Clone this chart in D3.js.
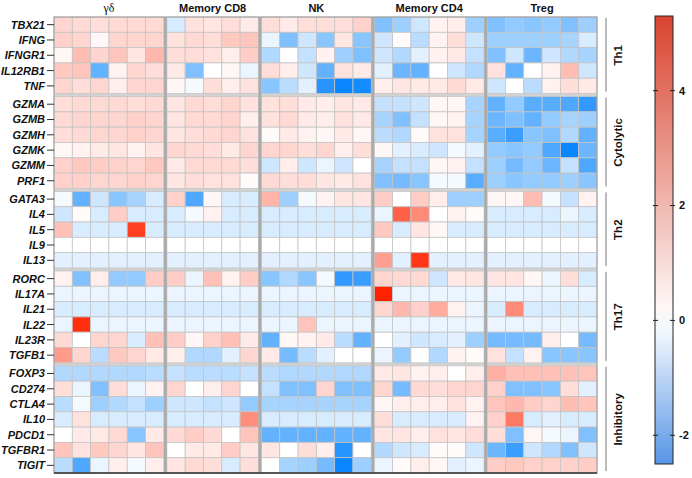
<!DOCTYPE html>
<html>
<head>
<meta charset="utf-8">
<script src="https://cdn.jsdelivr.net/npm/d3@7"></script>
<style>
  body { margin: 0; background: #fff; }
  svg text { font-family: "Liberation Sans", Arial, sans-serif; }
</style>
</head>
<body>
<svg id="chart" width="692" height="478"></svg>
<script>
const genes = ["TBX21", "IFNG", "IFNGR1", "IL12RB1", "TNF",
  "GZMA", "GZMB", "GZMH", "GZMK", "GZMM", "PRF1",
  "GATA3", "IL4", "IL5", "IL9", "IL13",
  "RORC", "IL17A", "IL21", "IL22", "IL23R", "TGFB1",
  "FOXP3", "CD274", "CTLA4", "IL10", "PDCD1", "TGFBR1", "TIGIT"];
const categories    = ["Th1", "Cytolytic", "Th2", "Th17", "Inhibitory"];
const categorySizes = [5, 6, 5, 6, 7];
const cellTypes     = ["γδ", "Memory CD8", "NK", "Memory CD4", "Treg"];

// one row per gene (same order as genes), one value per donor column
const valuesGD = [
  [1.0, 0.9, 0.8, 0.9, 0.9, 0.9], [1.1, 1.0, 0.2, 1.0, 1.0, 1.0], [0.2, 1.6, 1.0, 1.4, 0.6, 1.7],
  [1.3, 1.4, -1.6, 0.3, 1.0, 0.8], [1.0, 0.8, 1.0, 0.4, 1.0, 1.0],
  [0.8, 0.9, 0.9, 0.9, 0.8, 0.9], [0.9, 1.0, 1.0, 1.0, 1.1, 1.0], [0.8, 0.9, 1.0, 1.0, 1.1, 1.0],
  [0.2, 0.3, 0.5, 0.6, 0.3, 0.6], [1.1, 1.3, 1.2, 1.1, 1.0, 1.3], [1.1, 1.1, 1.0, 1.0, 1.1, 1.0],
  [-0.1, -1.6, -0.5, -1.2, -0.9, -0.4], [-0.5, 0.1, -0.4, 1.2, -0.4, -0.4], [1.5, -0.4, -0.4, -0.4, 4.6, -0.4],
  [0.0, 0.0, 0.0, 0.0, 0.0, 0.0], [-0.3, -0.3, -0.3, -0.3, -0.3, -0.3],
  [0.3, -1.3, 0.4, -1.1, -1.1, 1.2], [-0.2, -0.2, -0.2, -0.2, -0.2, -0.2], [-0.4, -0.4, -0.4, -0.4, -0.4, -0.4],
  [-0.2, 5.0, -0.2, -0.2, -0.2, -0.2], [0.9, 0.0, 1.0, 1.0, -0.4, 1.5], [2.4, 1.0, -0.7, 1.3, 1.0, 0.5],
  [-0.8, -0.8, -0.8, -0.8, -0.8, -0.7], [0.8, -0.2, -1.3, 0.8, -0.2, 0.3], [-0.7, -0.1, -1.0, -0.8, -0.6, -1.0],
  [-0.4, 0.7, -0.4, -0.4, -0.4, -0.4], [0.0, 0.5, 0.5, 0.9, -1.2, 0.5], [1.4, 0.7, 1.3, 1.0, 0.6, 1.4],
  [-0.7, -1.8, -0.2, 0.4, -0.1, 0.4]
];
const valuesCD8 = [
  [-0.4, 0.7, 0.6, 0.8, 0.5], [0.7, 0.9, 0.8, 1.3, 1.4], [0.8, 0.8, 0.7, 0.4, 1.2],
  [0.5, -1.3, 0.0, 0.2, -0.2], [0.2, -0.1, 0.8, 0.4, 0.7],
  [0.6, 0.9, 0.8, 1.0, 0.7], [0.6, 0.9, 0.9, 1.0, 0.4], [0.6, 0.8, 0.9, 1.0, 0.7],
  [1.0, 0.9, 0.8, 0.5, 1.0], [0.5, 0.9, 0.9, 0.9, 0.8], [0.6, 0.8, 0.7, 0.7, 0.1],
  [1.1, -1.8, 0.2, -0.4, -0.4], [-0.4, -0.1, 0.3, -0.4, -0.4], [-0.4, -0.4, -0.4, -0.4, -0.4],
  [0.0, 0.0, 0.0, 0.0, 0.0], [-0.3, -0.3, -0.3, -0.3, -0.3],
  [1.2, -0.2, 1.5, 0.3, 1.2], [-0.2, -0.2, -0.2, -0.2, -0.2], [-0.4, -0.4, -0.4, -0.4, -0.4],
  [-0.2, -0.2, -0.2, -0.2, -0.2], [1.2, 0.2, 1.1, 1.5, 0.5], [0.4, -0.8, -0.8, -0.3, 1.0],
  [-0.6, -0.7, -0.7, -0.7, -0.6], [1.0, 0.0, 0.4, 1.0, 0.0], [-0.5, -0.5, -0.6, -0.5, -1.1],
  [-0.4, -0.4, -0.4, -0.4, 2.7], [0.9, 1.2, 0.9, 0.0, 1.4], [0.0, 0.5, 0.5, 1.2, 0.6],
  [0.6, 0.9, 0.8, -0.4, 0.8]
];
const valuesNK = [
  [0.8, 0.5, 0.8, 0.8, 0.8, 1.1], [-0.2, -1.3, -0.5, -1.2, 0.6, -1.2], [-0.8, 0.0, -0.6, 0.3, -1.0, -1.3],
  [0.8, 0.4, -0.5, -1.6, 0.7, 0.5], [-1.2, -0.7, -0.3, -2.2, -2.5, -2.4],
  [0.7, 0.8, 0.5, 0.4, 0.6, 0.5], [0.7, 0.9, 0.5, 0.4, 0.7, 0.5], [0.1, 0.5, 0.3, 0.2, 0.5, 0.2],
  [1.0, 1.0, 0.8, 1.0, 0.4, 0.8], [-0.5, 0.4, -0.5, -0.2, -0.5, 0.0], [0.9, 0.8, 0.8, 0.6, 0.5, 0.7],
  [1.8, -1.0, -0.1, 0.3, 0.6, 0.6], [-0.4, -0.4, -0.4, -0.4, -0.4, -0.4], [-0.4, -0.4, -0.4, -0.4, -0.4, -0.4],
  [0.0, 0.0, 0.0, 0.0, 0.0, 0.0], [-0.3, -0.3, -0.3, -0.3, -0.3, -0.3],
  [-1.2, -0.8, -1.2, -0.1, -2.1, -2.0], [-0.2, -0.2, -0.2, -0.2, -0.2, -0.2], [-0.4, -0.4, -0.4, -0.4, -0.4, -0.4],
  [-0.2, -0.2, 1.4, -0.2, -0.2, -0.2], [-1.6, 0.2, 0.3, 0.5, -0.7, -1.6], [0.5, -1.4, -0.7, -0.3, 0.0, 0.0],
  [-0.7, -0.8, -0.8, -0.8, -0.8, -0.8], [-0.6, -1.3, -1.3, 1.0, -1.3, -1.3], [-0.9, -0.9, -0.9, -0.9, -0.9, -0.9],
  [-0.4, -0.4, -0.4, -0.4, -0.4, -0.4], [-1.6, -1.6, -1.6, -1.6, -1.6, -1.6], [0.6, 0.0, 0.8, 0.4, -2.2, 0.0],
  [0.0, -0.9, -1.0, -1.4, -2.6, -1.0]
];
const valuesCD4 = [
  [-1.3, -1.0, -0.5, 0.3, 0.4, -1.0], [-0.5, 0.1, -0.7, 0.3, 0.8, -0.5], [-0.5, -0.8, -0.3, 0.3, 0.5, -0.6],
  [-0.3, -1.5, -1.6, 0.0, -0.5, -0.8], [0.4, 0.6, 0.5, 0.5, 0.9, 0.5],
  [-0.6, -0.6, -0.5, 0.2, 0.2, -0.9], [-0.9, -1.3, -0.6, 0.2, 0.3, -0.9], [-0.7, -0.8, 0.1, 0.7, 0.7, -0.9],
  [0.2, -0.3, -0.4, -0.5, -0.1, -0.3], [-0.9, -0.6, -0.6, 0.2, 0.3, -0.6], [-1.3, -1.4, -1.2, -0.1, -0.1, -1.7],
  [1.2, 0.0, 1.2, 0.4, -1.0, -1.0], [-0.2, 3.8, 2.8, 0.0, 0.3, 0.1], [1.3, -0.4, 0.6, 0.2, -0.4, -0.4],
  [0.0, 0.0, 0.0, 0.0, 0.0, 0.0], [2.3, -0.3, 4.8, -0.3, -0.3, -0.3],
  [1.0, 0.9, 0.9, -0.5, 0.5, 0.6], [5.3, -0.2, -0.2, -0.2, -0.2, -0.2], [1.0, 1.7, 1.1, 2.0, 0.3, -0.2],
  [-0.2, -0.2, -0.2, -0.2, -0.2, -0.2], [0.0, -0.3, -0.5, -0.4, -0.3, -1.0], [-0.2, -1.1, 0.0, -0.8, 0.3, 0.1],
  [0.5, 0.6, 0.3, 0.4, 0.0, 0.4], [1.0, -1.4, 0.9, 0.8, 1.0, 1.0], [0.2, 0.4, 0.4, 0.4, 0.7, 0.3],
  [0.8, -0.4, -0.4, -0.4, -0.4, 0.3], [0.6, 0.6, 0.4, 0.7, 0.6, 0.8], [-0.8, -0.5, -0.4, 0.1, 0.1, -0.5],
  [-0.2, 0.1, 0.4, 0.2, -0.3, -0.2]
];
const valuesTreg = [
  [-1.3, -1.1, -1.2, -1.1, -1.3, -1.0], [-1.0, -1.0, -1.0, -1.0, -0.9, -0.4], [-1.3, -0.5, -1.5, -0.5, -0.8, -0.9],
  [0.7, -1.6, 0.0, 0.3, 1.6, -0.5], [-0.5, 0.0, -0.7, 0.3, 0.8, 0.5],
  [-1.6, -1.1, -1.7, -1.7, -1.8, -2.1], [-1.5, -1.3, -1.6, -1.1, -0.9, -1.0], [-1.7, -2.0, -1.2, -1.3, -0.8, -1.6],
  [-1.1, -1.2, -1.1, -1.8, -2.6, -1.5], [-1.0, -1.4, -1.1, -1.5, -0.6, -1.8], [-1.0, -1.2, -1.1, -1.1, -1.0, -1.2],
  [0.2, 0.2, 1.6, -0.1, -0.6, 0.3], [-0.4, -0.4, -0.4, -0.4, -0.2, -0.4], [-0.4, -0.4, -0.4, -0.4, -0.4, -0.4],
  [0.0, 0.0, 0.0, 0.0, 0.0, 0.0], [-0.3, -0.3, -0.3, -0.3, -0.3, -0.3],
  [0.6, 0.6, 0.2, -0.2, 0.8, -0.4], [-0.2, -0.2, -0.2, -0.2, -0.2, -0.2], [-0.4, 2.8, -0.4, -0.4, -0.4, -0.4],
  [-0.2, -0.2, -0.2, -0.2, -0.2, -0.2], [-1.4, -1.4, -1.4, 0.4, 0.0, -1.4], [0.7, -0.6, 0.3, -1.2, -1.2, -1.2],
  [1.9, 1.5, 1.5, 1.5, 1.5, 1.4], [1.1, -1.3, -1.3, -1.2, 0.8, -0.3], [1.4, 1.7, 1.2, 1.0, 1.6, 1.4],
  [1.1, 3.2, -0.4, -0.3, -0.4, -0.4], [0.8, -1.3, 0.2, -0.1, -0.2, -1.3], [-1.5, -2.0, -0.5, -0.8, -1.3, -0.5],
  [1.2, 1.3, 1.1, 1.1, 1.1, 1.2]
];
const colorTicks = [-2, 0, 2, 4];
const colorRange = [-2.5, 5.3];

drawHeatmap();

function drawHeatmap() {
  let svg      = d3.select("#chart"),
    groups     = [valuesGD, valuesCD8, valuesNK, valuesCD4, valuesTreg],
    left       = 54,
    right      = 597,
    top        = 17,
    bottom     = 473,
    gap        = 3,
    nCols      = groups.map(g => g[0].length),
    cellW      = (right - left - gap * (groups.length - 1)) / d3.sum(nCols),
    cellH      = (bottom - top - gap * (categories.length - 1)) / genes.length,
    cellColor  = d3.scaleLinear().domain([colorRange[0], 0, colorRange[1]])
                   .range(["#0a86ff", "#ffffff", "#ff2200"]).clamp(true),
    barColor   = d3.scaleLinear().domain([colorRange[0], 0, colorRange[1]])
                   .range(["#5795e6", "#ffffff", "#d8432f"]);

  // x band per cell type, y band per gene category
  let xBands = [], cx = left;
  nCols.forEach(n => {
    xBands.push(d3.scaleBand().domain(d3.range(n)).range([cx, cx + n * cellW]));
    cx += n * cellW + gap;
  });

  let yBands = [], cy = top, geneIdx = 0, geneCat = {};
  categorySizes.forEach((n, ci) => {
    let names = genes.slice(geneIdx, geneIdx + n);
    names.forEach(g => geneCat[g] = ci);
    yBands.push(d3.scaleBand().domain(names).range([cy, cy + n * cellH]));
    cy += n * cellH + gap;
    geneIdx += n;
  });
  let yOf = g => yBands[geneCat[g]](g);

  // separators
  svg.selectAll(".hgap").data(yBands.slice(1)).enter().append("rect")
    .attr("x", left).attr("width", right - left)
    .attr("y", d => d.range()[0] - gap).attr("height", gap)
    .attr("fill", "#d2d2d2");

  // cells
  let cells = [];
  groups.forEach((rows, gi) => rows.forEach((row, ri) => row.forEach((v, c) => {
    cells.push({g: gi, gene: genes[ri], c: c, v: v});
  })));

  svg.append("g").selectAll("rect").data(cells).enter().append("rect")
    .attr("x", d => xBands[d.g](d.c))
    .attr("y", d => yOf(d.gene))
    .attr("width", cellW)
    .attr("height", cellH)
    .attr("fill", d => cellColor(d.v))
    .attr("stroke", "#c4c4c4")
    .attr("stroke-width", 0.8);

  svg.selectAll(".vgap").data(xBands.slice(1)).enter().append("rect")
    .attr("x", d => d.range()[0] - gap).attr("width", gap)
    .attr("y", top).attr("height", bottom - top)
    .attr("fill", "#ababab");

  // frame
  svg.append("rect").attr("x", left).attr("y", top)
    .attr("width", right - left).attr("height", bottom - top)
    .attr("fill", "none").attr("stroke", "#9a9a9a").attr("stroke-width", 1);
  svg.append("line").attr("x1", left).attr("x2", right)
    .attr("y1", bottom).attr("y2", bottom)
    .attr("stroke", "#333").attr("stroke-width", 1.5);

  // gene labels + ticks
  let yAxis = svg.append("g");
  genes.forEach(g => {
    let y = yOf(g) + cellH / 2;
    yAxis.append("line").attr("x1", left - 7).attr("x2", left)
      .attr("y1", y).attr("y2", y).attr("stroke", "#333").attr("stroke-width", 1);
    yAxis.append("text").attr("x", left - 9).attr("y", y).attr("dy", "0.36em")
      .attr("text-anchor", "end")
      .style("font-size", "11px").style("font-weight", "bold").style("font-style", "italic")
      .attr("fill", "#111")
      .text(g);
  });

  // cell type labels
  cellTypes.forEach((t, gi) => {
    let r = xBands[gi].range();
    svg.append("text").attr("x", (r[0] + r[1]) / 2).attr("y", 12)
      .attr("text-anchor", "middle")
      .style("font-size", t === "γδ" ? "12px" : "11px")
      .style("font-weight", t === "γδ" ? "normal" : "bold")
      .style("font-family", t === "γδ" ? "'Liberation Serif', serif" : null)
      .attr("fill", "#111")
      .text(t);
  });

  // category brackets
  yBands.forEach((b, ci) => {
    let r = b.range();
    svg.append("line").attr("x1", 606).attr("x2", 606)
      .attr("y1", r[0] + 1).attr("y2", r[1] - 2)
      .attr("stroke", "#777").attr("stroke-width", 1);
    svg.append("text")
      .attr("transform", "translate(622," + (r[0] + r[1]) / 2 + ") rotate(-90)")
      .attr("text-anchor", "middle")
      .style("font-size", "11.5px").style("font-weight", "bold")
      .attr("fill", "#111")
      .text(categories[ci]);
  });

  // colour bar
  let barX = 655, barW = 18,
    barY = d3.scaleLinear().domain(colorRange).range([464, 16]);

  let grad = svg.append("defs").append("linearGradient")
    .attr("id", "bar").attr("x1", 0).attr("x2", 0).attr("y1", 1).attr("y2", 0);
  d3.range(0, 1.0001, 0.05).forEach(t => {
    let v = colorRange[0] + t * (colorRange[1] - colorRange[0]);
    grad.append("stop").attr("offset", t).attr("stop-color", barColor(v));
  });

  svg.append("rect").attr("x", barX).attr("y", barY(colorRange[1]))
    .attr("width", barW).attr("height", barY(colorRange[0]) - barY(colorRange[1]))
    .attr("fill", "url(#bar)").attr("stroke", "#222").attr("stroke-width", 1);

  colorTicks.forEach(t => {
    let y = barY(t);
    svg.append("line").attr("x1", barX - 2).attr("x2", barX + 3).attr("y1", y).attr("y2", y)
      .attr("stroke", "#222");
    svg.append("line").attr("x1", barX + barW - 3).attr("x2", barX + barW + 2).attr("y1", y).attr("y2", y)
      .attr("stroke", "#222");
    svg.append("text").attr("x", barX + barW + 6).attr("y", y).attr("dy", "0.36em")
      .style("font-size", "11px").style("font-weight", "bold").attr("fill", "#111")
      .text(t);
  });
}
</script>
</body>
</html>
